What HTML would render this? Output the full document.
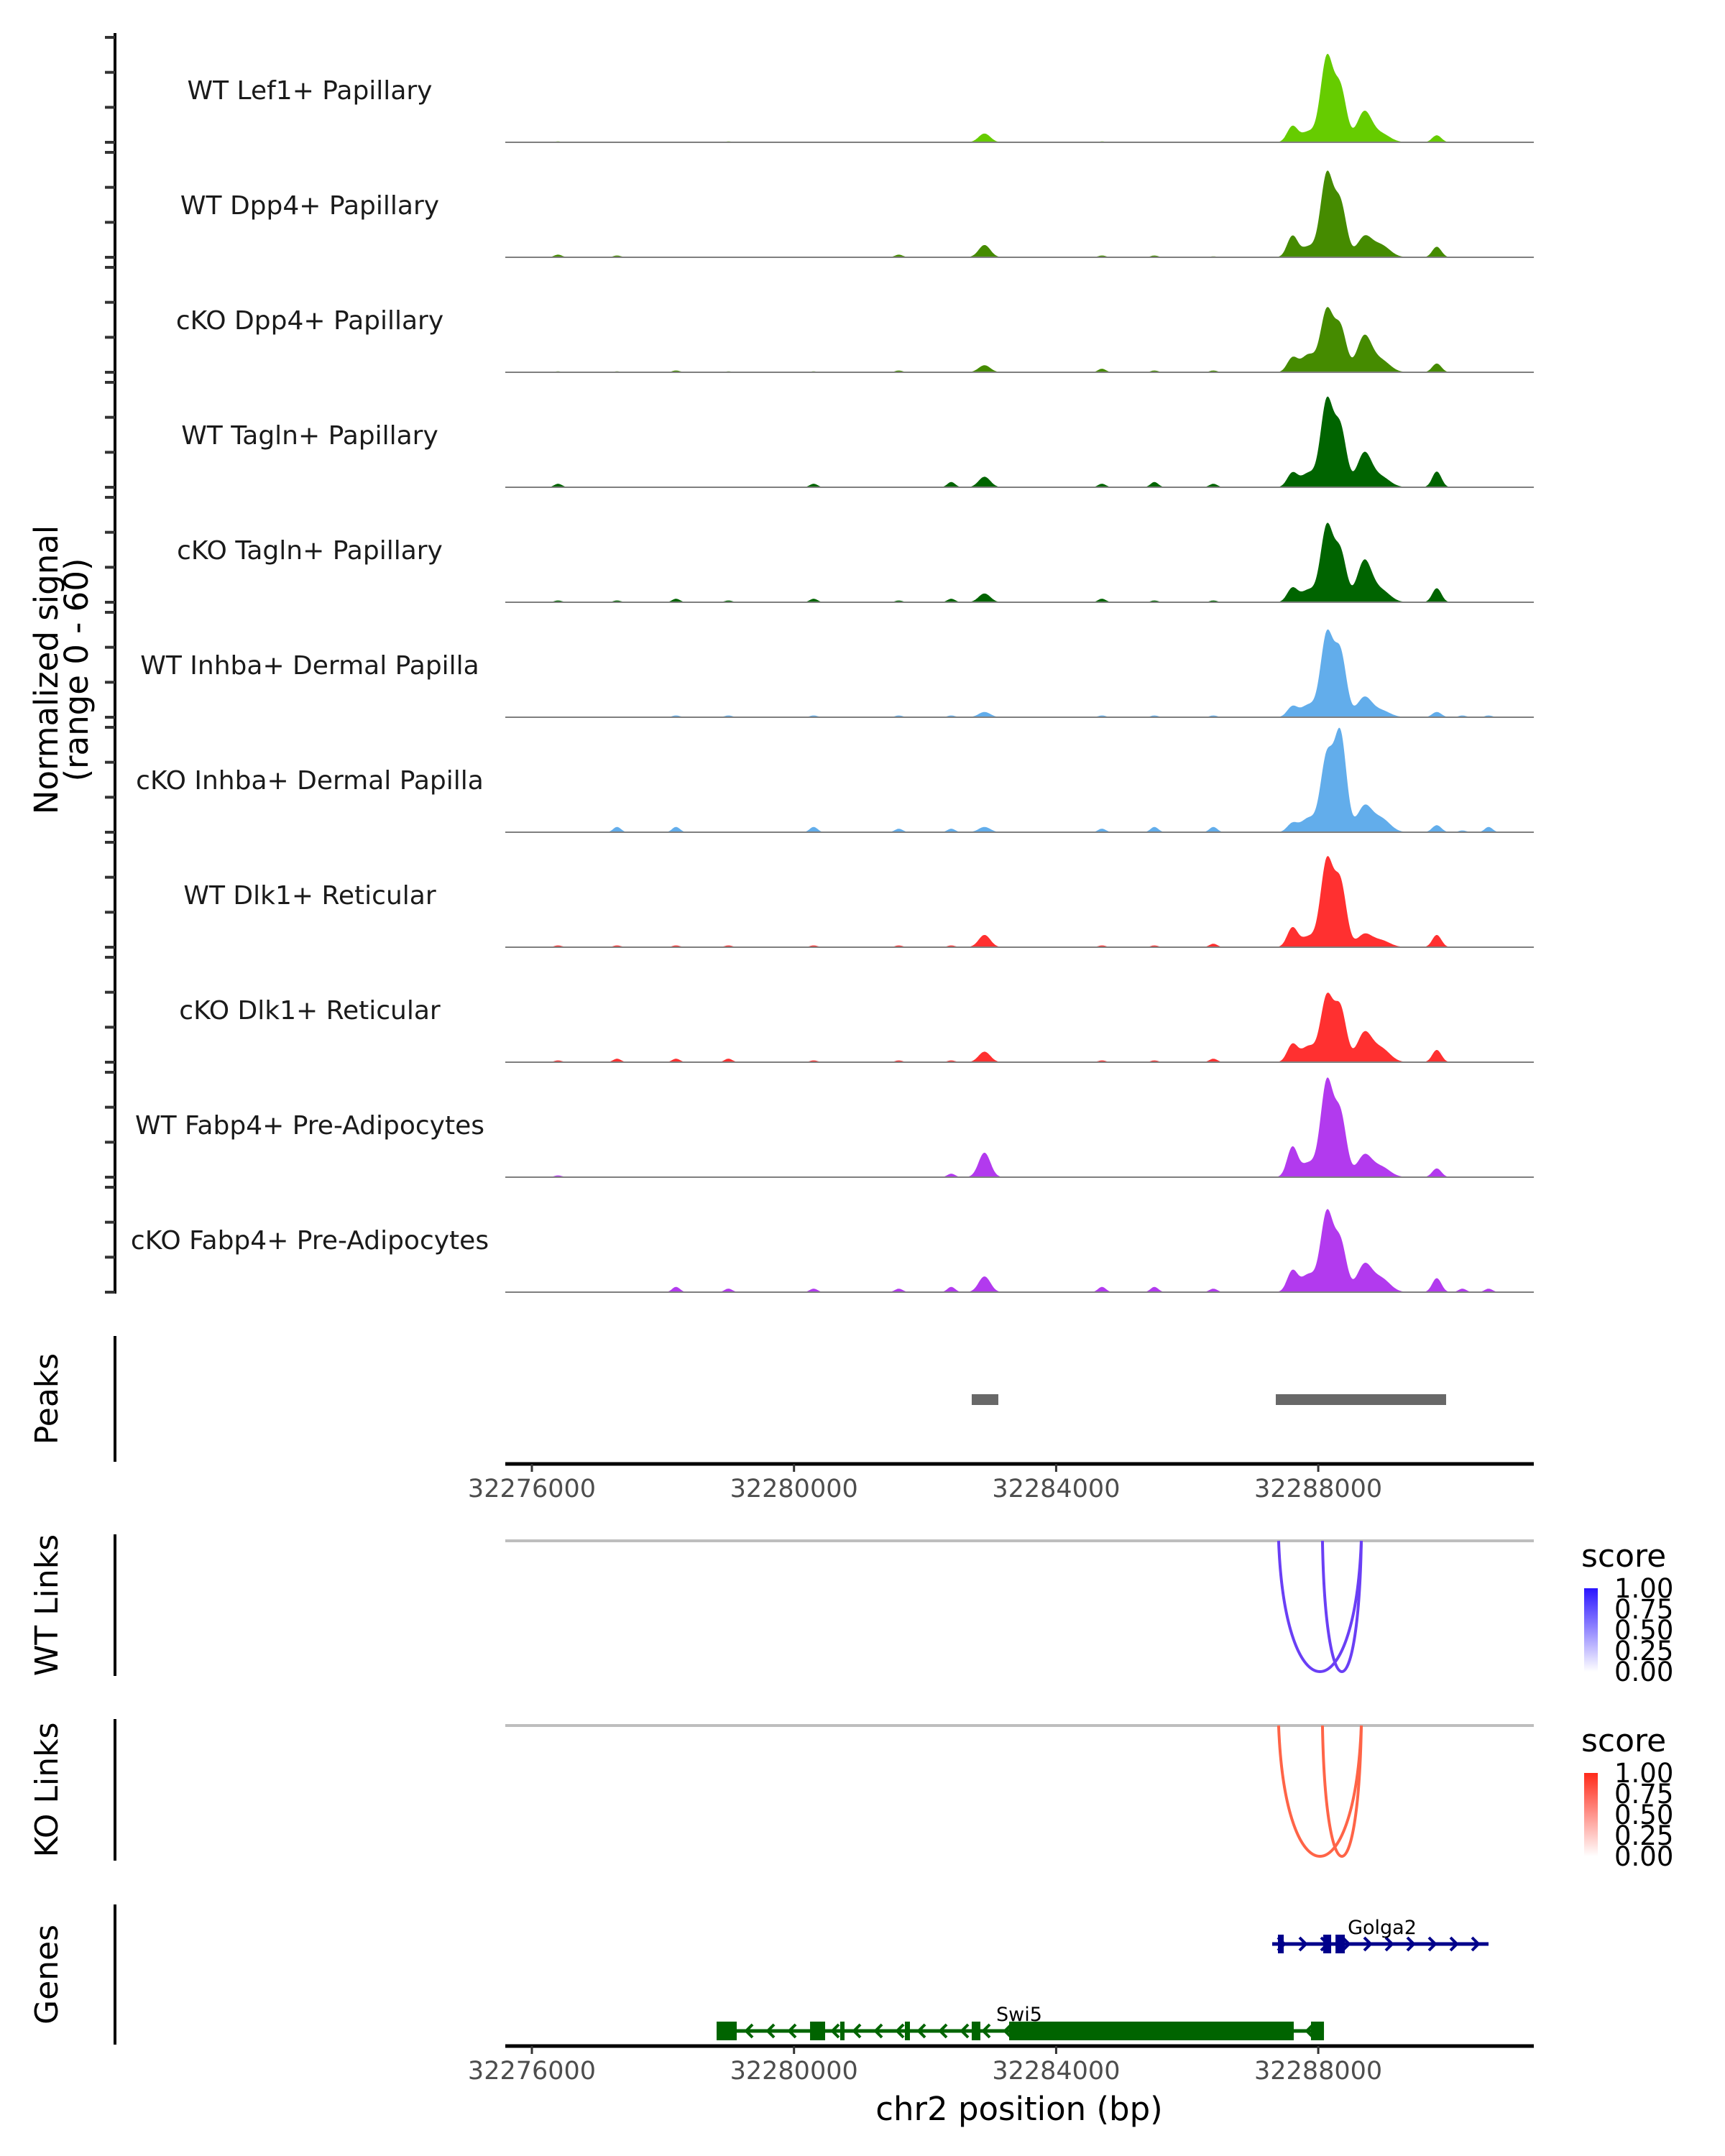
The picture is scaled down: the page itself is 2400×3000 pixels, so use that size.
<!DOCTYPE html>
<html><head><meta charset="utf-8">
<style>
html,body{margin:0;padding:0;background:#fff;}
svg{display:block;font-family:"DejaVu Sans","Liberation Sans",sans-serif;}
</style></head>
<body>
<svg id="chart" width="2400" height="3000" viewBox="0 0 2400 3000" xmlns="http://www.w3.org/2000/svg"></svg>
<script>
// ---- data ----
const trackNames = ["WT Lef1+ Papillary","WT Dpp4+ Papillary","cKO Dpp4+ Papillary","WT Tagln+ Papillary","cKO Tagln+ Papillary","WT Inhba+ Dermal Papilla","cKO Inhba+ Dermal Papilla","WT Dlk1+ Reticular","cKO Dlk1+ Reticular","WT Fabp4+ Pre-Adipocytes","cKO Fabp4+ Pre-Adipocytes"];
const trackColors = ["#66cc00","#458b00","#458b00","#006400","#006400","#62adeb","#62adeb","#ff3030","#ff3030","#b23aee","#b23aee"];
const peakPos = [32282907,32287605,32287850,32288131,32288339,32288701,32288950,32289809];
const peakSigma = [90,80,110,95,90,110,140,70];
const peakHeights = [
 [5,9,6,48,30,17,5,4],
 [7,12,6,47,30,11,7,6],
 [4,8,10,35,25,20,7,5],
 [6,8,8,49,33,19,6,9],
 [5,8,7,43,28,23,7,8],
 [3,6,7,47,36,11,4,3],
 [3,5,8,43,55,14,8,4],
 [7,11,6,49,36,7,4,7],
 [6,10,9,37,30,16,8,7],
 [14,17,8,54,35,12,6,5],
 [9,12,10,45,28,15,8,8]
];
const bgPos = [32276400,32277300,32278200,32279000,32280300,32281600,32282400,32284700,32285500,32286400,32290200,32290600];
const bgHeights = [
 [0.5,0,0,0.5,0,0,0,0.5,0,0,0,0],
 [1.5,1,0,0,0,1.5,0,1,1,0.5,0,0],
 [0.5,0.5,1,0.5,0.5,1,0,2,1,1,0,0],
 [2,0,0,0,2,0,3,2,3,2,0,0],
 [1,1,2,1,2,1,2,2,1,1,0,0],
 [0,0,1,1,1,1,1,1,1,1,1,1],
 [0,3,3,0,3,2,2,2,3,3,1,3],
 [1,1,1,1,1,1,1,1,1,2,0,0],
 [1,2,2,2,1,1,1,1,1,2,0,0],
 [1,0,0,0,0,0,2,0,0,0,0,0],
 [0,0,3,2,2,2,3,3,3,2,2,2]
];
const xTicks = [32276000,32280000,32284000,32288000];
const peakRegions = [[32282712,32283118],[32287352,32289951]];
const wtLinks = [[32287395,32288657,0.7],[32288064,32288657,0.8]];
const koLinks = [[32287395,32288657,0.7],[32288064,32288657,0.8]];
const swi5Exons = [[32278819,32279126],[32280245,32280475],[32280705,32280771],[32281692,32281769],[32282712,32282844],[32283283,32287626],[32287889,32288087]];
const golgaExons = [[32287385,32287473],[32288076,32288197],[32288263,32288405]];
const legendTicks = ["1.00","0.75","0.50","0.25","0.00"];

// ---- scales ----
const X0=703, X1=2134;
const xs = bp => 740 + (bp-32276000)*364.7/4000;
const BP0 = 32276000 + (X0-740)*4000/364.7, BP1 = 32276000 + (X1-740)*4000/364.7;
const yUnit = 146/60;
const NS="http://www.w3.org/2000/svg";
const svg=document.getElementById('chart');
function mk(tag,attrs,parent){const e=document.createElementNS(NS,tag);for(const k in attrs)e.setAttribute(k,attrs[k]);(parent||svg).appendChild(e);return e;}
function txt(s,attrs,parent){const e=mk('text',attrs,parent);e.textContent=s;return e;}

const la=mk('line',{x1:160,y1:46,x2:160,y2:1800,stroke:'#000','stroke-width':4});


const yt=txt('Normalized signal',{x:0,y:0,'font-size':45,'text-anchor':'middle',fill:'#000',transform:'translate(80,932) rotate(-90)'});


const yt2=txt('(range 0 - 60)',{x:0,y:0,'font-size':45,'text-anchor':'middle',fill:'#000',transform:'translate(122,932) rotate(-90)'});



trackNames.forEach((name,i)=>{
  const base = 198 + 160*i;
  const g=mk('g',{});
  
  
  [0,20,40,60].forEach(v=>{
    const t=mk('line',{x1:146,x2:160,y1:base-v*yUnit,y2:base-v*yUnit,stroke:'#333','stroke-width':4},g);
    
    
  });
  const lb=txt(name,{x:431,y:base-60,'font-size':36,'text-anchor':'middle',fill:'#1a1a1a'},g);
  
  
  let d='M'+X0+','+base;
  for(let bp=BP0; bp<=BP1; bp+=12){
    let v=0;
    peakPos.forEach((p,k)=>{const z=(bp-p)/peakSigma[k]; if(Math.abs(z)<5) v+=peakHeights[i][k]*Math.exp(-0.5*z*z);});
    bgPos.forEach((p,k)=>{const z=(bp-p)/60; if(Math.abs(z)<5) v+=bgHeights[i][k]*Math.exp(-0.5*z*z);});
    v=Math.min(v,60);
    d+=' L'+xs(bp).toFixed(1)+','+(base-v*yUnit).toFixed(1);
  }
  d+=' L'+X1+','+base+' Z';
  const a=mk('path',{d:d,fill:trackColors[i]},g);
  
  
  const bl=mk('line',{x1:X0,x2:X1,y1:base,y2:base,stroke:'#7f7f7f','stroke-width':2},g);
  
  
});

function sideAxis(y1,y2,label,name){
  const l=mk('line',{x1:160,x2:160,y1:y1,y2:y2,stroke:'#000','stroke-width':4});
  
  
  const t=txt(label,{x:0,y:0,'font-size':44,'text-anchor':'middle',fill:'#000',transform:'translate(80,'+((y1+y2)/2)+') rotate(-90)'});
  
  
}
sideAxis(1859,2034,'Peaks','peaks');
peakRegions.forEach(r=>{
  const rc=mk('rect',{x:xs(r[0]),y:1940,width:xs(r[1])-xs(r[0]),height:15,fill:'#686868'});
  
  
});
function xAxis(y,name){
  const l=mk('line',{x1:X0,x2:X1,y1:y,y2:y,stroke:'#000','stroke-width':5});
  
  
  xTicks.forEach(t=>{
    const tk=mk('line',{x1:xs(t),x2:xs(t),y1:y,y2:y+11,stroke:'#333','stroke-width':3});
    
    
    const tl=txt(String(t),{x:xs(t),y:y+46,'font-size':35,'text-anchor':'middle',fill:'#4d4d4d'});
    
    
  });
}
xAxis(2037,'peaks-x-axis');

function links(top,bottom,data,color,legTop,c1,name,label){
  sideAxis(top-9,top+188,label,name);
  const gl=mk('line',{x1:X0,x2:X1,y1:top,y2:top,stroke:'#bebebe','stroke-width':4});
  
  
  data.forEach(l=>{
    const a=xs(l[0]),b=xs(l[1]),dep=(bottom-top)*4/3;
    const p=mk('path',{d:`M${a},${top} C${a+(b-a)*0.08},${top+dep} ${b-(b-a)*0.08},${top+dep} ${b},${top}`,fill:'none',stroke:color,'stroke-width':4});
    
    
  });
  const gid='grad-'+name;
  const gr=mk('linearGradient',{id:gid,x1:0,y1:0,x2:0,y2:1});
  mk('stop',{offset:0,'stop-color':c1},gr);mk('stop',{offset:1,'stop-color':'#ffffff'},gr);
  const lt=txt('score',{x:2200,y:legTop-30,'font-size':44,fill:'#000'});
  
  
  const bar=mk('rect',{x:2204,y:legTop,width:19,height:116,fill:`url(#${gid})`});
  
  
  legendTicks.forEach((s,k)=>{
    const yy=legTop+k*29;
    const tl=txt(s,{x:2246,y:yy+13,'font-size':37,fill:'#000'});
    
    
  });
}
links(2144,2326,wtLinks,'#6a3ff5',2210,'#2a14ff','wt-links','WT Links');
links(2401,2583,koLinks,'#ff6447',2467,'#ff2a1a','ko-links','KO Links');

sideAxis(2650,2845,'Genes','genes');
function gene(ex,start,end,y,h,color,dir,label,lx,ly,name){
  const g=mk('g',{});
  
  
  mk('line',{x1:xs(start),x2:xs(end),y1:y,y2:y,stroke:color,'stroke-width':5},g);
  for(let x=xs(start)+14;x<xs(end)-6;x+=30){
    mk('path',{d:dir>0?`M${x-6},${y-9} L${x+3},${y} L${x-6},${y+9}`:`M${x+6},${y-9} L${x-3},${y} L${x+6},${y+9}`,fill:'none',stroke:color,'stroke-width':4},g);
  }
  ex.forEach(e=>{
    const r=mk('rect',{x:xs(e[0]),y:y-h/2,width:Math.max(3,xs(e[1])-xs(e[0])),height:h,fill:color},g);
    
    
  });
  const t=txt(label,{x:lx,y:ly,'font-size':27,'text-anchor':'middle',fill:'#000'},g);
  
  
}
gene(golgaExons,32287297,32290598,2705,26,'#00008b',1,'Golga2',1923,2691,'gene-golga2');
gene(swi5Exons,32278819,32288087,2826,26,'#006400',-1,'Swi5',1418,2812,'gene-swi5');
xAxis(2847,'genes-x-axis');
const xt=txt('chr2 position (bp)',{x:1418,y:2950,'font-size':45,'text-anchor':'middle',fill:'#000'});


</script>
</body></html>
